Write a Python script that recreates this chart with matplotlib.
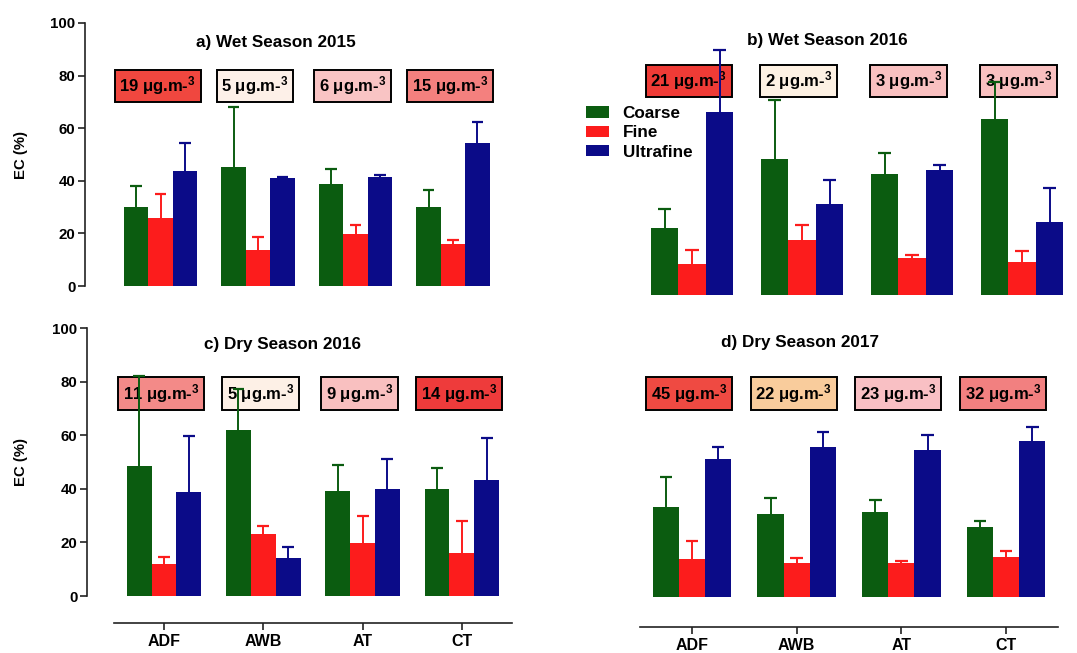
import matplotlib
matplotlib.use("Agg")
import matplotlib.pyplot as plt
from matplotlib.patches import Patch
import numpy as np

plt.rcParams['font.family'] = ['Liberation Sans', 'DejaVu Sans']
plt.rcParams['font.weight'] = 'bold'
plt.rcParams['mathtext.fontset'] = 'custom'
plt.rcParams['mathtext.rm'] = 'Liberation Sans:bold'
plt.rcParams['mathtext.bf'] = 'Liberation Sans:bold'
plt.rcParams['mathtext.default'] = 'bf'

sites = ["ADF", "AWB", "AT", "CT"]
fractions = ["Coarse", "Fine", "Ultrafine"]
colors = ["#0b5c10", "#fc1c1c", "#0b0b88"]

# a) Wet Season 2015
a_coarse = [30.2, 45.2, 38.8, 29.9]
a_fine = [25.8, 13.7, 19.6, 15.9]
a_ultra = [43.8, 40.9, 41.5, 54.3]
a_coarse_sd = [8.0, 23.0, 5.5, 6.6]
a_fine_sd = [9.3, 4.9, 3.7, 1.5]
a_ultra_sd = [10.5, 0.5, 0.7, 8.0]
a_conc = [19, 5, 6, 15]
a_box = ["#f0473f", "#fdf0e8", "#f9c4c4", "#f4807e"]

# b) Wet Season 2016
b_coarse = [25.5, 51.7, 45.9, 67.1]
b_fine = [11.9, 20.8, 13.9, 12.5]
b_ultra = [69.4, 34.6, 47.4, 27.6]
b_coarse_sd = [7.3, 22.6, 8.1, 13.8]
b_fine_sd = [5.4, 5.8, 1.2, 4.1]
b_ultra_sd = [23.6, 9.2, 2.2, 12.9]
b_conc = [21, 2, 3, 3]
b_box = ["#ef3b36", "#fdf1e3", "#f9c0c0", "#f9c0c0"]

# c) Dry Season 2016
c_coarse = [48.6, 61.9, 39.3, 39.8]
c_fine = [11.8, 23.0, 19.7, 15.9]
c_ultra = [38.7, 14.2, 40.0, 43.2]
c_coarse_sd = [33.4, 15.2, 9.5, 8.1]
c_fine_sd = [2.6, 3.1, 10.2, 12.0]
c_ultra_sd = [21.1, 4.2, 11.0, 15.8]
c_conc = [11, 5, 9, 14]
c_box = ["#f38a88", "#fdf0e6", "#f9c0c0", "#ee3b3b"]

# d) Dry Season 2017
d_coarse = [33.6, 31.0, 31.8, 26.2]
d_fine = [14.3, 12.7, 12.8, 15.0]
d_ultra = [51.5, 56.0, 55.0, 58.3]
d_coarse_sd = [11.2, 5.8, 4.5, 2.3]
d_fine_sd = [6.5, 1.7, 0.5, 2.2]
d_ultra_sd = [4.5, 5.4, 5.4, 5.0]
d_conc = [45, 22, 23, 32]
d_box = ["#ef4a42", "#f9cc9c", "#f9c0c4", "#f28080"]

W, H = 1077, 653
fig = plt.figure(figsize=(W / 100, H / 100), dpi=100)
fig.patch.set_facecolor("white")


def fx(x):
    return x / W


def fy(y):
    return 1 - y / H


def make_axes(left, top, bottom, right, x0, spacing):
    ax = fig.add_axes([fx(left), fy(bottom), fx(right - left), (bottom - top) / H])
    ax.set_xlim((left - x0) / spacing, (right - x0) / spacing)
    ax.set_ylim(0, 100)
    ax.patch.set_alpha(0)
    for s in ("top", "right"):
        ax.spines[s].set_visible(False)
    return ax


def draw_panel(ax, means, sds, conc, box_colors, box_y):
    x = np.arange(len(sites))
    width = 0.25
    cap = 0.06
    for i, (m, sd, col) in enumerate(zip(means, sds, colors)):
        xi = x + (i - 1) * width
        m = np.asarray(m)
        top = m + np.asarray(sd)
        ax.bar(xi, m, width=width, color=col, linewidth=0, zorder=2)
        # upper-only error bars (SD)
        ax.vlines(xi, m, top, color=col, linewidth=1.4, zorder=4)
        ax.hlines(top, xi - cap, xi + cap, color=col, linewidth=1.6, zorder=4)
    for xi, cval, bc in zip(x, conc, box_colors):
        ax.text(xi - 0.03, box_y, f"{cval} \u03bcg.m-$^{{3}}$", ha="center", va="center",
                fontsize=12, fontweight="bold", zorder=3,
                bbox=dict(boxstyle="square,pad=0.28", facecolor=bc,
                          edgecolor="black", linewidth=1.4))


def style_y(ax):
    ax.spines["left"].set_bounds(0, 100)
    ax.spines["left"].set_linewidth(1.2)
    ax.spines["left"].set_color("#222222")
    ax.set_yticks([0, 20, 40, 60, 80, 100])
    ax.tick_params(axis="y", length=5, width=1.2, color="#222222",
                   labelsize=10.8, pad=2)
    for lab in ax.get_yticklabels():
        lab.set_fontweight("bold")


def hide_y(ax):
    ax.spines["left"].set_visible(False)
    ax.set_yticks([])


def style_x(ax, outward):
    ax.spines["bottom"].set_position(("outward", outward))
    ax.spines["bottom"].set_bounds(-0.5, 3.5)
    ax.spines["bottom"].set_linewidth(1.2)
    ax.spines["bottom"].set_color("#222222")
    ax.set_xticks(np.arange(len(sites)))
    ax.set_xticklabels(sites, fontsize=11.5, fontweight="bold")
    ax.tick_params(axis="x", length=5, width=1.2, color="#222222", pad=3)


def hide_x(ax):
    ax.spines["bottom"].set_visible(False)
    ax.set_xticks([])


# panel a
ax_a = make_axes(85, 23, 286, 520, 160.5, 97.5)
draw_panel(ax_a, [a_coarse, a_fine, a_ultra], [a_coarse_sd, a_fine_sd, a_ultra_sd],
           a_conc, a_box, 76.1)
style_y(ax_a)
hide_x(ax_a)

# panel b
ax_b = make_axes(600, 32, 295, 1130, 692, 110)
draw_panel(ax_b, [b_coarse, b_fine, b_ultra], [b_coarse_sd, b_fine_sd, b_ultra_sd],
           b_conc, b_box, 81.5)
hide_y(ax_b)
hide_x(ax_b)

# panel c
ax_c = make_axes(87, 328, 596, 512, 164, 99.3)
draw_panel(ax_c, [c_coarse, c_fine, c_ultra], [c_coarse_sd, c_fine_sd, c_ultra_sd],
           c_conc, c_box, 75.6)
style_y(ax_c)
style_x(ax_c, 19.4)

# panel d
ax_d = make_axes(600, 329, 597, 1058, 692, 104.7)
draw_panel(ax_d, [d_coarse, d_fine, d_ultra], [d_coarse_sd, d_fine_sd, d_ultra_sd],
           d_conc, d_box, 75.9)
hide_y(ax_d)
style_x(ax_d, 21.6)

# panel titles
title_kw = dict(ha="center", va="center", fontsize=12.3, fontweight="bold")
fig.text(fx(276), fy(43), "a) Wet Season 2015", **title_kw)
fig.text(fx(827), fy(40), "b) Wet Season 2016", **title_kw)
fig.text(fx(283), fy(344), "c) Dry Season 2016", **title_kw)
fig.text(fx(800), fy(343), "d) Dry Season 2017", **title_kw)

# y-axis labels
for yc in (155, 462):
    fig.text(fx(21), fy(yc), "EC (%)", rotation=90, ha="center", va="center",
             fontsize=10.7, fontweight="bold")

# legend
handles = [Patch(facecolor=c, edgecolor="none", label=l) for c, l in zip(colors, fractions)]
fig.legend(handles=handles, loc="upper left", bbox_to_anchor=(fx(586), fy(106)),
           frameon=False, handlelength=1.35, handleheight=0.65,
           handletextpad=0.8, labelspacing=0.25, borderpad=0, borderaxespad=0,
           prop={"weight": "bold", "size": 12.3})

fig.savefig("out.png", dpi=100)
